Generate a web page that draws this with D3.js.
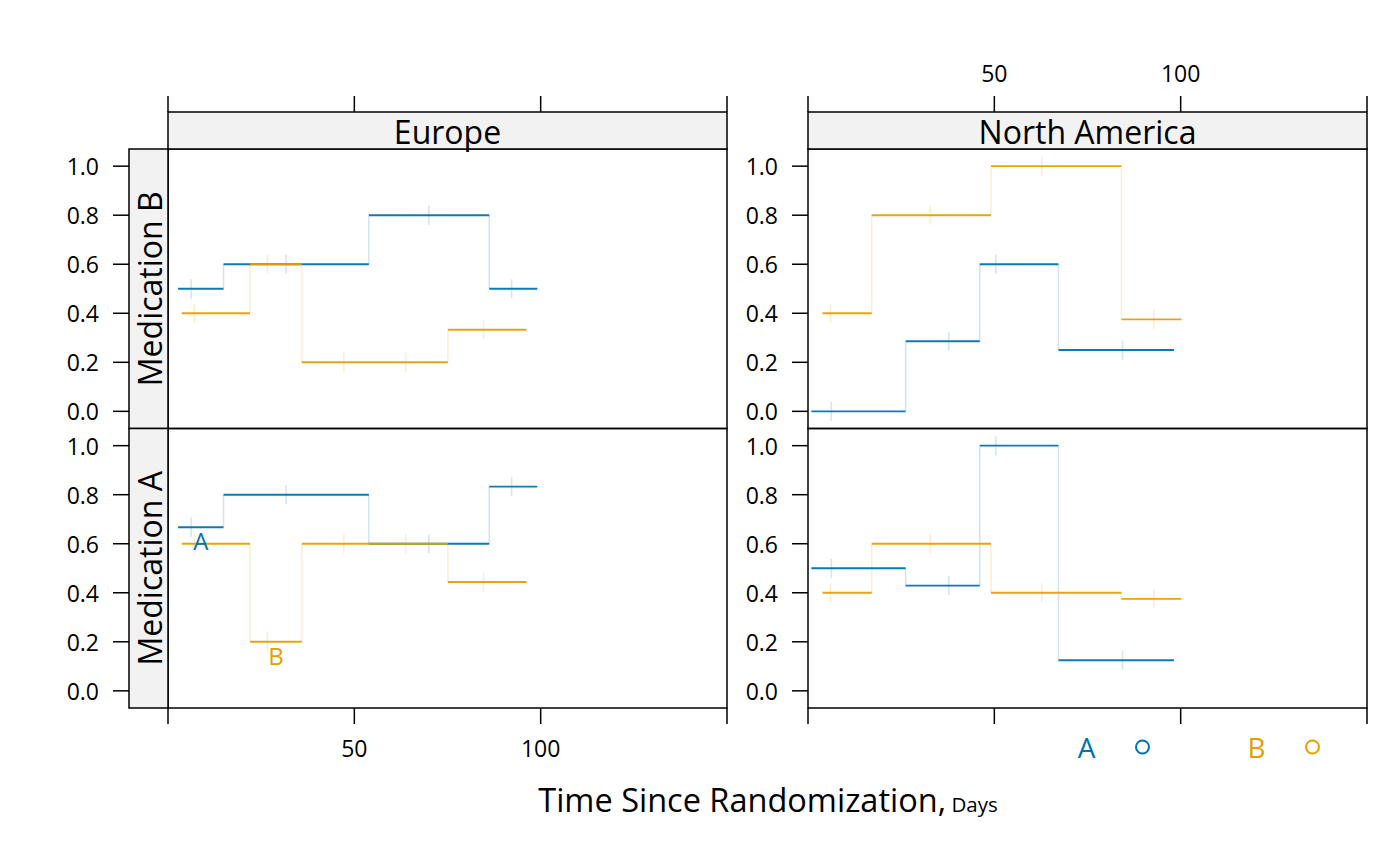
<!DOCTYPE html>
<html><head><meta charset="utf-8">
<script src="https://cdn.jsdelivr.net/npm/d3@7"></script>
<style>
body{margin:0;background:#fff;}
svg{display:block;}
text{font-family:'Open Sans',sans-serif;fill:#000;}
</style>
</head><body>
<svg id="chart" width="1400" height="866"></svg>
<script>
// ---------------- data ----------------
const regions = ["Europe", "North America"];
const medications = ["Medication B", "Medication A"]; // top row, bottom row
const groups = ["A", "B"];
const groupColors = ["#0072B2", "#E69F00"];
const xTicks = [0, 50, 100, 150];
const xTickLabels = ["", "50", "100", ""];
const yTicks = [0, 0.2, 0.4, 0.6, 0.8, 1.0];
const yTickLabels = ["0.0", "0.2", "0.4", "0.6", "0.8", "1.0"];
const xTitle = "Time Since Randomization,";
const xTitleUnit = "Days";

// interval breaks (days) per region and group
const europeBreaksA = [2.7, 14.9, 53.9, 86.2, 99.1];
const europeBreaksB = [3.7, 22.0, 35.9, 75.1, 96.2];
const northAmericaBreaksA = [0.9, 26.2, 46.1, 67.2, 98.2];
const northAmericaBreaksB = [3.9, 17.1, 49.1, 84.1, 100.2];

// mean times (tick marks) per region and group
const europeTimesA = [6.2, 31.7, 70.0, 92.2];
const europeTimesB = [7.1, 26.7, 47.2, 63.8, 84.7];
const northAmericaTimesA = [6.25, 37.8, 50.4, 84.4];
const northAmericaTimesB = [6.05, 32.8, 62.7, 92.8];

// proportions per interval
const europeMedBGroupA = [0.5, 0.6, 0.8, 0.5];
const europeMedBGroupB = [0.4, 0.6, 0.2, 0.333];
const europeMedAGroupA = [0.667, 0.8, 0.6, 0.833];
const europeMedAGroupB = [0.6, 0.2, 0.6, 0.444];
const northAmericaMedBGroupA = [0, 0.286, 0.6, 0.25];
const northAmericaMedBGroupB = [0.4, 0.8, 1.0, 0.375];
const northAmericaMedAGroupA = [0.5, 0.429, 1.0, 0.125];
const northAmericaMedAGroupB = [0.4, 0.6, 0.4, 0.375];

// direct labels: group, panel, interval index
const directLabels = [
  {group: "A", region: "Europe", medication: "Medication A", bin: 0},
  {group: "B", region: "Europe", medication: "Medication A", bin: 1}
];

// ---------------- assemble ----------------
const breaks = {
  "Europe": [europeBreaksA, europeBreaksB],
  "North America": [northAmericaBreaksA, northAmericaBreaksB]
};
const times = {
  "Europe": [europeTimesA, europeTimesB],
  "North America": [northAmericaTimesA, northAmericaTimesB]
};
const values = {
  "Europe|Medication B": [europeMedBGroupA, europeMedBGroupB],
  "Europe|Medication A": [europeMedAGroupA, europeMedAGroupB],
  "North America|Medication B": [northAmericaMedBGroupA, northAmericaMedBGroupB],
  "North America|Medication A": [northAmericaMedAGroupA, northAmericaMedAGroupB]
};

// ---------------- layout ----------------
const svg = d3.select("#chart");
const colX = [168, 808];
const panelW = 559;
const rowY = [149, 428.5];
const panelH = 279.5;
const stripH = 37;
const leftStripW = 39;
const tickLen = 16;
const lightOpacity = 0.18;

const xScales = colX.map(x0 => d3.scaleLinear().domain([0, 150]).range([x0, x0 + panelW]));
const yScales = rowY.map(y0 => d3.scaleLinear().domain([-0.07, 1.07]).range([y0 + panelH, y0]));

const gAll = svg.append("g");

regions.forEach((region, c) => {
  const xs = xScales[c];
  medications.forEach((med, r) => {
    const ys = yScales[r];
    const g = gAll.append("g");
    const vals = values[region + "|" + med];
    groups.forEach((grp, gi) => {
      const br = breaks[region][gi];
      const v = vals[gi];
      const col = groupColors[gi];
      // vertical connectors
      const conn = d3.range(1, v.length).map(i => ({x: br[i], y0: v[i - 1], y1: v[i]}));
      g.selectAll(null).data(conn).enter().append("line")
        .attr("x1", d => xs(d.x)).attr("x2", d => xs(d.x))
        .attr("y1", d => ys(d.y0)).attr("y2", d => ys(d.y1))
        .attr("stroke", col).attr("stroke-opacity", lightOpacity).attr("stroke-width", 1.6);
      // tick marks at mean times
      const tk = times[region][gi].map(t => {
        let i = br.findIndex((b, k) => k < v.length && t >= b && t < br[k + 1]);
        if (i < 0) i = v.length - 1;
        return {x: t, y: v[i]};
      });
      g.selectAll(null).data(tk).enter().append("line")
        .attr("x1", d => xs(d.x)).attr("x2", d => xs(d.x))
        .attr("y1", d => ys(d.y) - 9.5).attr("y2", d => ys(d.y) + 9.5)
        .attr("stroke", col).attr("stroke-opacity", lightOpacity).attr("stroke-width", 1.6);
    });
    groups.forEach((grp, gi) => {
      const br = breaks[region][gi];
      const v = vals[gi];
      const segs = v.map((y, i) => ({x0: br[i], x1: br[i + 1], y}));
      g.selectAll(null).data(segs).enter().append("line")
        .attr("x1", d => xs(d.x0)).attr("x2", d => xs(d.x1))
        .attr("y1", d => ys(d.y)).attr("y2", d => ys(d.y))
        .attr("stroke", groupColors[gi]).attr("stroke-width", 1.9).attr("stroke-opacity", 0.95);
    });
    // direct labels
    directLabels.filter(d => d.region === region && d.medication === med).forEach(d => {
      const gi = groups.indexOf(d.group);
      const br = breaks[region][gi];
      const v = vals[gi];
      g.append("text")
        .attr("x", xs((br[d.bin] + br[d.bin + 1]) / 2))
        .attr("y", ys(v[d.bin]) + 2)
        .attr("dominant-baseline", "hanging")
        .attr("text-anchor", "middle")
        .style("font-size", "24px")
        .style("fill", groupColors[gi])
        .text(d.group);
    });
    // panel border
    g.append("rect").attr("x", colX[c]).attr("y", rowY[r]).attr("width", panelW).attr("height", panelH)
      .attr("fill", "none").attr("stroke", "#000").attr("stroke-width", 1.5);

    // y axis ticks and labels
    const tickRight = c === 0 ? colX[c] - leftStripW : colX[c];
    const ya = gAll.append("g");
    ya.selectAll(null).data(yTicks).enter().append("line")
      .attr("x1", tickRight - tickLen).attr("x2", tickRight)
      .attr("y1", d => ys(d)).attr("y2", d => ys(d))
      .attr("stroke", "#000").attr("stroke-width", 1.5);
    ya.selectAll(null).data(yTicks).enter().append("text")
      .attr("x", tickRight - tickLen - 14).attr("y", d => ys(d))
      .attr("text-anchor", "end").attr("dominant-baseline", "central")
      .style("font-size", "23px")
      .text((d, i) => yTickLabels[i]);

    // left strips
    if (c === 0) {
      gAll.append("rect").attr("x", colX[0] - leftStripW).attr("y", rowY[r]).attr("width", leftStripW).attr("height", panelH)
        .attr("fill", "#f2f2f2").attr("stroke", "#000").attr("stroke-width", 1.5);
      gAll.append("text")
        .attr("transform", `translate(${colX[0] - leftStripW / 2 + 1},${rowY[r] + panelH / 2}) rotate(-90)`)
        .attr("text-anchor", "middle").attr("dominant-baseline", "central")
        .style("font-size", "32px")
        .text(med);
    }
  });

  // top strip
  gAll.append("rect").attr("x", colX[c]).attr("y", rowY[0] - stripH).attr("width", panelW).attr("height", stripH)
    .attr("fill", "#f2f2f2").attr("stroke", "#000").attr("stroke-width", 1.5);
  gAll.append("text").attr("x", colX[c] + panelW / 2).attr("y", rowY[0] - stripH / 2 + 1)
    .attr("text-anchor", "middle").attr("dominant-baseline", "central")
    .style("font-size", "32px").text(region);

  // top axis ticks (labels only on right column)
  const topY = rowY[0] - stripH;
  const ta = gAll.append("g");
  ta.selectAll(null).data(xTicks).enter().append("line")
    .attr("x1", d => xs(d)).attr("x2", d => xs(d))
    .attr("y1", topY).attr("y2", topY - tickLen)
    .attr("stroke", "#000").attr("stroke-width", 1.5);
  if (c === 1) {
    ta.selectAll(null).data(xTicks).enter().append("text")
      .attr("x", d => xs(d)).attr("y", topY - tickLen - 14)
      .attr("text-anchor", "middle")
      .style("font-size", "23px")
      .text((d, i) => xTickLabels[i]);
  }
  // bottom axis ticks (labels only on left column)
  const botY = rowY[1] + panelH;
  const ba = gAll.append("g");
  ba.selectAll(null).data(xTicks).enter().append("line")
    .attr("x1", d => xs(d)).attr("x2", d => xs(d))
    .attr("y1", botY).attr("y2", botY + tickLen)
    .attr("stroke", "#000").attr("stroke-width", 1.5);
  if (c === 0) {
    ba.selectAll(null).data(xTicks).enter().append("text")
      .attr("x", d => xs(d)).attr("y", botY + tickLen + 13)
      .attr("text-anchor", "middle").attr("dominant-baseline", "hanging")
      .style("font-size", "23px")
      .text((d, i) => xTickLabels[i]);
  }
});

// legend
const legendX = [1086.5, 1256.5];
const legendCircleX = [1142.5, 1312.5];
const legendY = 747;
const lg = svg.append("g");
lg.selectAll(null).data(groups).enter().append("text")
  .attr("x", (d, i) => legendX[i]).attr("y", legendY)
  .attr("text-anchor", "middle").attr("dominant-baseline", "central")
  .style("font-size", "28px").style("fill", (d, i) => groupColors[i])
  .text(d => d);
lg.selectAll(null).data(groups).enter().append("circle")
  .attr("cx", (d, i) => legendCircleX[i]).attr("cy", legendY)
  .attr("r", 6.5).attr("fill", "none")
  .attr("stroke", (d, i) => groupColors[i]).attr("stroke-width", 2);

// axis title
const t = svg.append("text").attr("x", 768).attr("y", 812).attr("text-anchor", "middle");
t.append("tspan").style("font-size", "32.5px").text(xTitle);
t.append("tspan").style("font-size", "20.5px").text(" " + xTitleUnit);
</script>
</body></html>
